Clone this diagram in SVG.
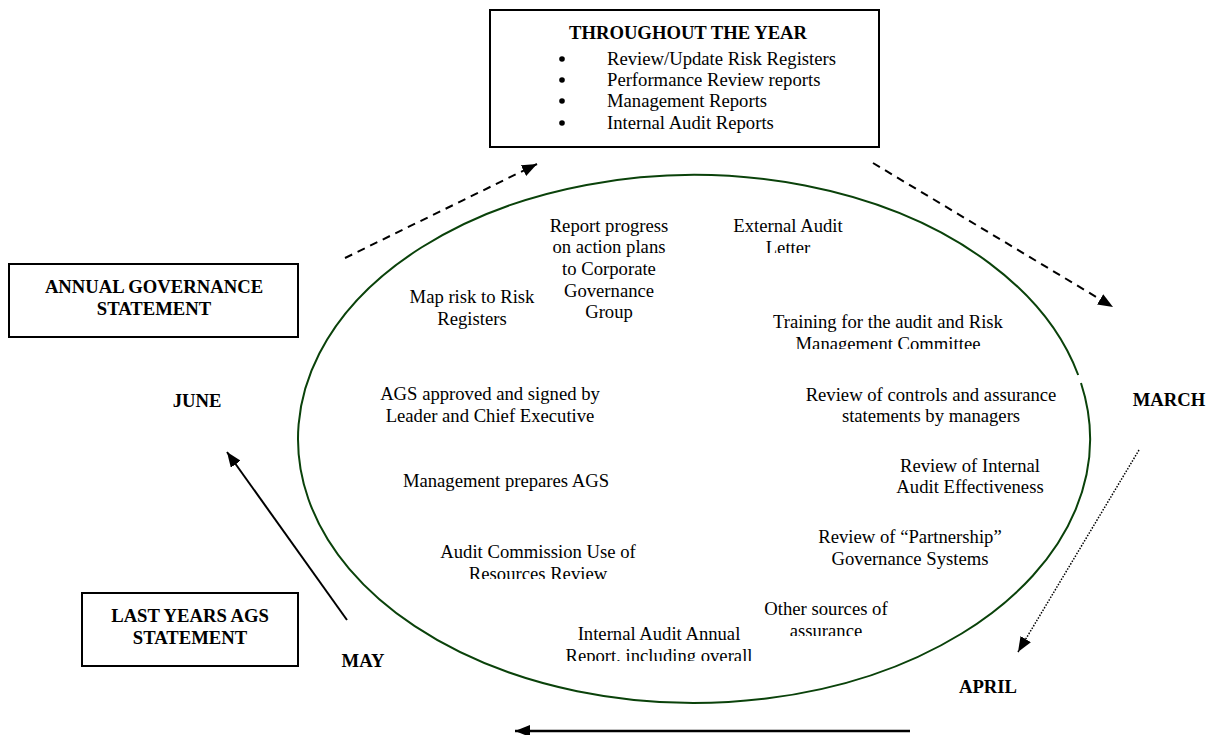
<svg xmlns="http://www.w3.org/2000/svg" width="1207" height="735" viewBox="0 0 1207 735">
<style>
  .t { font-family: "Liberation Serif", "Times New Roman", serif; font-size: 18.67px; fill: #000; text-anchor: middle; }
  .l { text-anchor: start; }
  .b { font-weight: bold; }
  .box { fill: #fff; stroke: #000; stroke-width: 2; }
  .cyc { fill: none; stroke: #0a420a; stroke-width: 2; }
  .ar { fill: none; stroke: #000; }
</style>
<defs>
  <marker id="ah" markerUnits="userSpaceOnUse" markerWidth="15" markerHeight="12" refX="15" refY="6" orient="auto">
    <path d="M0,0 L15,6 L0,12 z" fill="#000"/>
  </marker>
  <clipPath id="c1"><rect x="600" y="200" width="300" height="53"/></clipPath>
  <clipPath id="c2"><rect x="700" y="300" width="380" height="49"/></clipPath>
  <clipPath id="c3"><rect x="400" y="530" width="300" height="49"/></clipPath>
  <clipPath id="c4"><rect x="740" y="590" width="180" height="46"/></clipPath>
  <clipPath id="c5"><rect x="540" y="615" width="250" height="46"/></clipPath>
</defs>

<g id="cycle">
  <path class="cyc" d="M 1081 383 A 396 264 0 1 1 1078.2 375"/>
</g>

<g id="throughout-the-year">
  <rect class="box" x="490" y="10" width="389" height="137"/>
  <text class="t b" x="688" y="39">THROUGHOUT THE YEAR</text>
  <circle cx="562" cy="59" r="2.8"/>
  <circle cx="562" cy="80" r="2.8"/>
  <circle cx="562" cy="101" r="2.8"/>
  <circle cx="562" cy="123" r="2.8"/>
  <text class="t l" x="607" y="65">Review/Update Risk Registers</text>
  <text class="t l" x="607" y="86">Performance Review reports</text>
  <text class="t l" x="607" y="107">Management Reports</text>
  <text class="t l" x="607" y="129">Internal Audit Reports</text>
</g>

<g id="annual-governance-statement">
  <rect class="box" x="9" y="264" width="289" height="73"/>
  <text class="t b" x="154" y="293">ANNUAL GOVERNANCE</text>
  <text class="t b" x="154" y="315">STATEMENT</text>
</g>

<g id="last-years-ags">
  <rect class="box" x="82" y="593" width="216" height="73"/>
  <text class="t b" x="190" y="622">LAST YEARS AGS</text>
  <text class="t b" x="190" y="644">STATEMENT</text>
</g>

<g id="june"><text class="t b" x="197" y="407">JUNE</text></g>
<g id="march"><text class="t b" x="1169" y="406">MARCH</text></g>
<g id="april"><text class="t b" x="988" y="693">APRIL</text></g>
<g id="may"><text class="t b" x="363" y="667">MAY</text></g>

<g id="report-progress">
  <text class="t" x="609" y="232">Report progress</text>
  <text class="t" x="609" y="253">on action plans</text>
  <text class="t" x="609" y="275">to Corporate</text>
  <text class="t" x="609" y="297">Governance</text>
  <text class="t" x="609" y="318">Group</text>
</g>

<g id="external-audit-letter">
  <text class="t" x="788" y="232">External Audit</text>
  <text class="t" x="788" y="254" clip-path="url(#c1)">Letter</text>
</g>

<g id="map-risk">
  <text class="t" x="472" y="303">Map risk to Risk</text>
  <text class="t" x="472" y="325">Registers</text>
</g>

<g id="training">
  <text class="t" x="888" y="328">Training for the audit and Risk</text>
  <text class="t" x="888" y="350" clip-path="url(#c2)">Management Committee</text>
</g>

<g id="ags-approved">
  <text class="t" x="490" y="400">AGS approved and signed by</text>
  <text class="t" x="490" y="422">Leader and Chief Executive</text>
</g>

<g id="review-controls">
  <text class="t" x="931" y="401">Review of controls and assurance</text>
  <text class="t" x="931" y="422">statements by managers</text>
</g>

<g id="management-prepares">
  <text class="t" x="506" y="487">Management prepares AGS</text>
</g>

<g id="review-internal-audit">
  <text class="t" x="970" y="472">Review of Internal</text>
  <text class="t" x="970" y="493">Audit Effectiveness</text>
</g>

<g id="audit-commission">
  <text class="t" x="538" y="558">Audit Commission Use of</text>
  <text class="t" x="538" y="580" clip-path="url(#c3)">Resources Review</text>
</g>

<g id="partnership">
  <text class="t" x="910" y="543">Review of “Partnership”</text>
  <text class="t" x="910" y="565">Governance Systems</text>
</g>

<g id="other-sources">
  <text class="t" x="826" y="615">Other sources of</text>
  <text class="t" x="826" y="637" clip-path="url(#c4)">assurance</text>
</g>

<g id="internal-audit-annual">
  <text class="t" x="659" y="640">Internal Audit Annual</text>
  <text class="t" x="659" y="662" clip-path="url(#c5)">Report, including overall</text>
</g>

<g id="connectors">
  <line class="ar" x1="345" y1="258" x2="537" y2="164" stroke-width="2" stroke-dasharray="8,6" marker-end="url(#ah)"/>
  <line class="ar" x1="873" y1="163" x2="1113" y2="307" stroke-width="2" stroke-dasharray="8,6" marker-end="url(#ah)"/>
  <line class="ar" x1="1139" y1="450" x2="1018" y2="652" stroke-width="1.5" stroke-dasharray="1.5,1.5" marker-end="url(#ah)"/>
  <line class="ar" x1="910" y1="731" x2="515" y2="731" stroke-width="2.5" marker-end="url(#ah)"/>
  <line class="ar" x1="347" y1="620" x2="227" y2="452" stroke-width="2" marker-end="url(#ah)"/>
</g>
</svg>
